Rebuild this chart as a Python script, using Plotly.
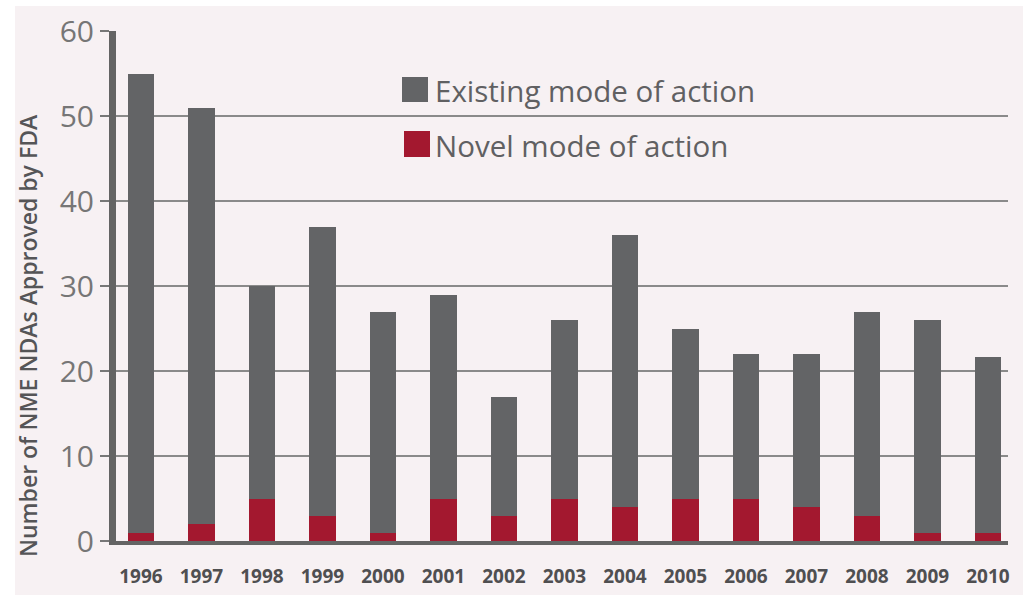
import plotly.graph_objects as go

years = ["1996", "1997", "1998", "1999", "2000", "2001", "2002", "2003",
         "2004", "2005", "2006", "2007", "2008", "2009", "2010"]
total = [55, 51, 30, 37, 27, 29, 17, 26, 36, 25, 22, 22, 27, 26, 21.7]
novel = [1, 2, 5, 3, 1, 5, 3, 5, 4, 5, 5, 4, 3, 1, 1]
existing = [t - n for t, n in zip(total, novel)]
y_ticks = [0, 10, 20, 30, 40, 50, 60]

GRAY = "#636466"
RED = "#A3182F"
BG = "#F7F1F3"

fig = go.Figure()
fig.add_trace(go.Bar(x=years, y=novel, name="Novel mode of action",
                     marker=dict(color=RED, line=dict(width=0)), width=0.445))
fig.add_trace(go.Bar(x=years, y=existing, name="Existing mode of action",
                     marker=dict(color=GRAY, line=dict(width=0)), width=0.445))

L, R, T, B = 116, 19, 31, 54
W, H = 1027, 595
pw, ph = W - L - R, H - T - B

def px(x):
    return (x - L) / pw

def py(y):
    return (H - B - y) / ph

shapes = [
    dict(type="rect", xref="paper", yref="paper", x0=px(15), x1=px(1023),
         y0=py(600), y1=py(6), fillcolor=BG, line=dict(width=0), layer="below"),
    dict(type="rect", xref="paper", yref="paper", x0=px(402), x1=px(428),
         y0=py(102), y1=py(77), fillcolor=GRAY, line=dict(width=0)),
    dict(type="rect", xref="paper", yref="paper", x0=px(404), x1=px(430),
         y0=py(157), y1=py(131), fillcolor=RED, line=dict(width=0)),
]
annotations = [
    dict(text="Existing mode of action", xref="paper", yref="paper",
         x=px(433), y=py(90), xanchor="left", yanchor="middle", showarrow=False,
         font=dict(family="Open Sans", size=29.5, color="#606062")),
    dict(text="Novel mode of action", xref="paper", yref="paper",
         x=px(433), y=py(145), xanchor="left", yanchor="middle", showarrow=False,
         font=dict(family="Open Sans", size=29.5, color="#606062")),
    dict(text="Number of NME NDAs Approved by FDA", xref="paper", yref="paper",
         x=px(28), y=py(336), xanchor="center", yanchor="middle", showarrow=False,
         textangle=-90,
         font=dict(family="Open Sans", size=23, color="#555557", weight=600)),
]

fig.update_layout(
    width=W, height=H,
    margin=dict(l=L, r=R, t=T, b=B, autoexpand=False),
    barmode="stack",
    showlegend=False,
    paper_bgcolor="white",
    plot_bgcolor="rgba(0,0,0,0)",
    shapes=shapes,
    annotations=annotations,
)
fig.update_xaxes(
    type="category", range=[-0.413, 14.331], automargin=False,
    showline=True, linewidth=4, linecolor="#646464",
    showgrid=False, ticks="",
    tickfont=dict(family="Open Sans", size=19, color="#4f4f51", weight="bold"),
    ticklabelstandoff=15,
)
fig.update_yaxes(
    range=[0, 60], tickvals=y_ticks, automargin=False,
    showline=True, linewidth=7, linecolor="#646464",
    showgrid=True, gridcolor="#8a8a8a", gridwidth=2,
    zeroline=False,
    ticks="outside", ticklen=9, tickwidth=2, tickcolor="#777777",
    tickfont=dict(family="Open Sans", size=30, color="#767676"),
)

fig.write_html("out.html", config={"displayModeBar": False},
               post_script="document.body.style.margin='0';")
